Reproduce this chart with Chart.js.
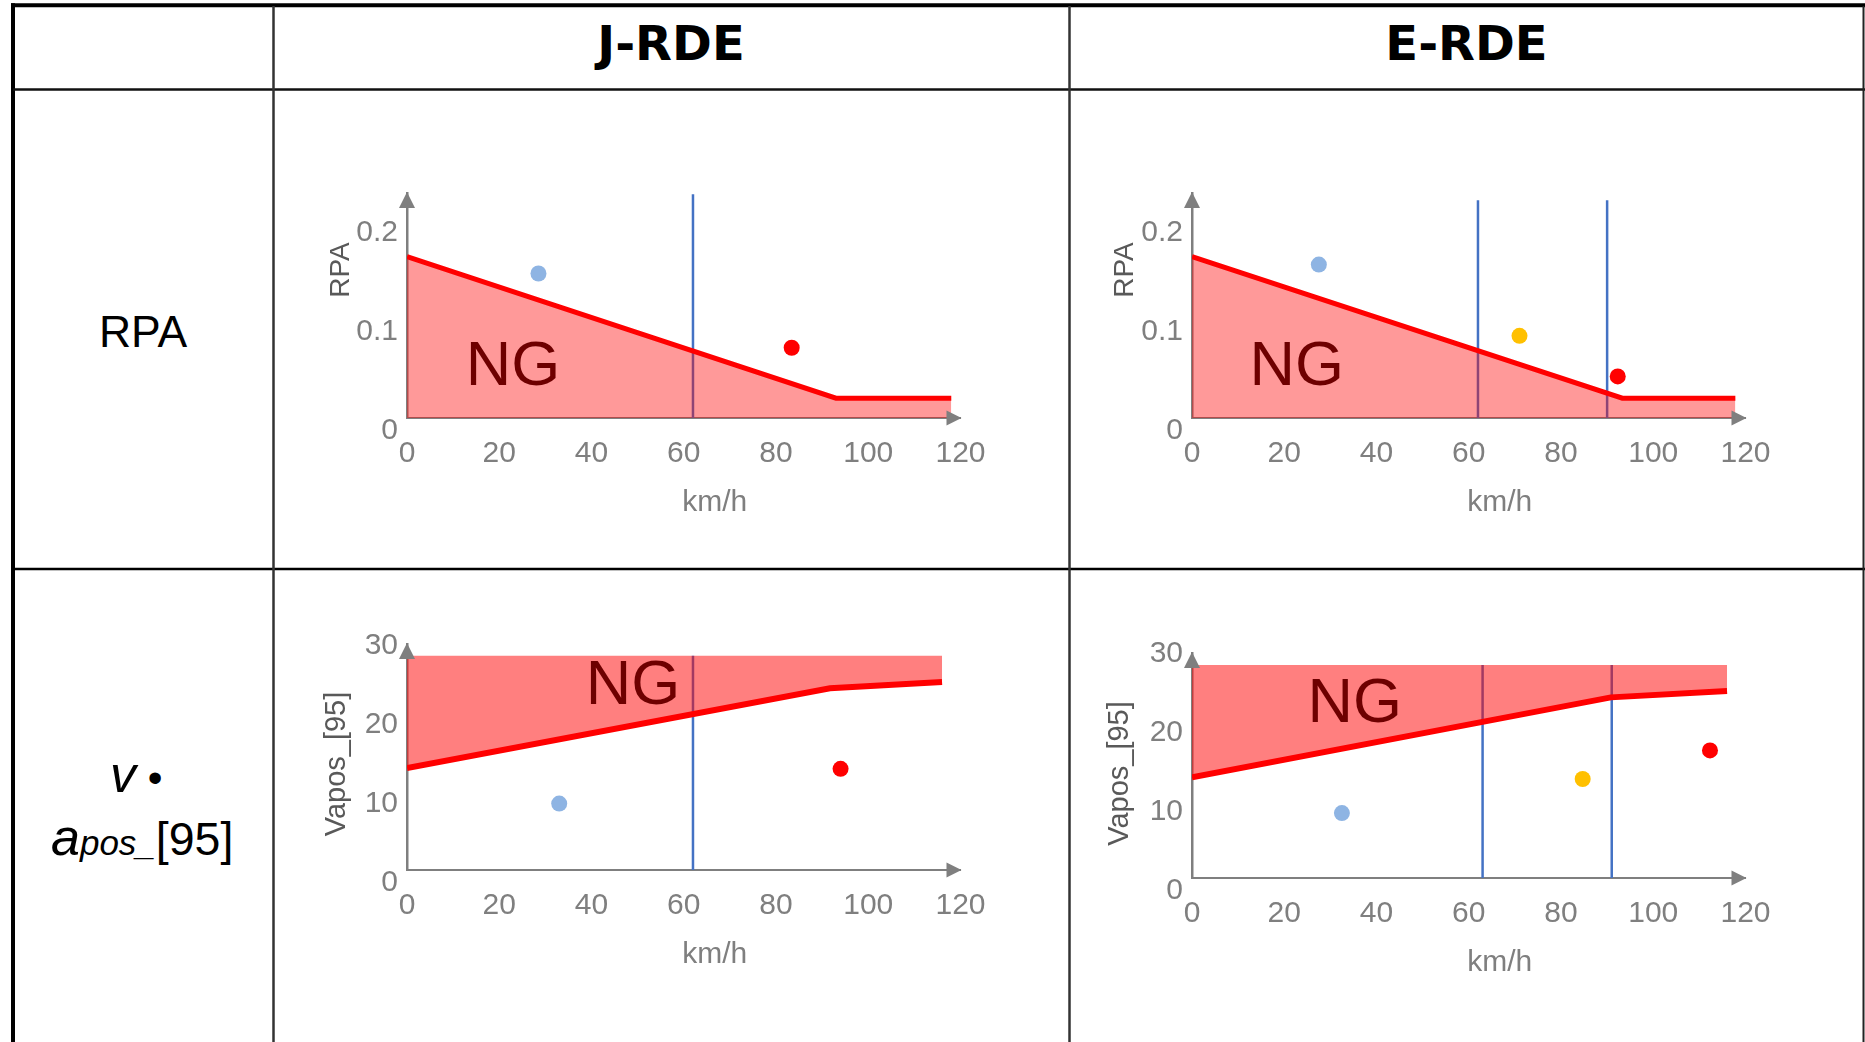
<!DOCTYPE html>
<html>
<head>
<meta charset="utf-8">
<script src="https://cdn.jsdelivr.net/npm/chart.js@4.4.0/dist/chart.umd.min.js"></script>
<style>
html,body{margin:0;padding:0;width:1865px;height:1042px;overflow:hidden;background:#fff;}
#tbl{position:absolute;left:0;top:0;}
canvas{position:absolute;}
</style>
</head>
<body>
<svg id="tbl" width="1865" height="1042" xmlns="http://www.w3.org/2000/svg">
  <line x1="11" y1="5.3" x2="1865" y2="5.3" stroke="#000" stroke-width="4"/>
  <line x1="13" y1="3.3" x2="13" y2="1042" stroke="#000" stroke-width="4"/>
  <line x1="13" y1="89.6" x2="1865" y2="89.6" stroke="#111" stroke-width="2.5"/>
  <line x1="13" y1="569" x2="1865" y2="569" stroke="#000" stroke-width="2.5"/>
  <line x1="273.5" y1="6" x2="273.5" y2="1042" stroke="#333" stroke-width="2.5"/>
  <line x1="1069.5" y1="6" x2="1069.5" y2="1042" stroke="#333" stroke-width="2.5"/>
  <line x1="1863.5" y1="6" x2="1863.5" y2="1042" stroke="#222" stroke-width="2"/>
  <text x="671" y="60" font-family="DejaVu Sans" font-weight="bold" font-size="48" text-anchor="middle" fill="#000">J-RDE</text>
  <text x="1466.5" y="60" font-family="DejaVu Sans" font-weight="bold" font-size="48" text-anchor="middle" fill="#000">E-RDE</text>
  <text x="143" y="347" font-family="Liberation Sans, Arial, sans-serif" font-size="44.5" text-anchor="middle" fill="#000">RPA</text>
  <text x="110" y="792" font-family="Liberation Sans, Arial, sans-serif" font-size="52" fill="#000"><tspan font-style="italic">v</tspan><tspan font-size="42"> •</tspan></text>
  <text x="51" y="855" font-family="Liberation Sans, Arial, sans-serif" fill="#000"><tspan font-style="italic" font-size="52">a</tspan><tspan font-style="italic" font-size="35">pos_</tspan><tspan font-size="46.5">[95]</tspan></text>
</svg>
<canvas id="c1"></canvas>
<canvas id="c2"></canvas>
<canvas id="c3"></canvas>
<canvas id="c4"></canvas>
<script>
// ---------- data ----------
const xTicks = [0, 20, 40, 60, 80, 100, 120];
const rpaTicks = [0, 0.1, 0.2];
const vaposTicks = [0, 10, 20, 30];

// J-RDE, RPA
const jRpaLimitX = [0, 93, 118];
const jRpaLimitY = [0.163, 0.020, 0.020];
const jRpaBounds = [62];
const jRpaBoundTop = 0.226;
const jRpaUrban = [28.5, 0.146];
const jRpaMotorway = [83.4, 0.071];

// E-RDE, RPA
const eRpaLimitX = [0, 93.3, 117.8];
const eRpaLimitY = [0.163, 0.020, 0.020];
const eRpaBounds = [62, 90];
const eRpaBoundTop = 0.220;
const eRpaUrban = [27.5, 0.155];
const eRpaRural = [71, 0.083];
const eRpaMotorway = [92.3, 0.042];

// J-RDE, v*apos[95]
const jVaLimitX = [0, 91.7, 116];
const jVaLimitY = [12.9, 23.0, 23.8];
const jVaCeiling = 27.1;
const jVaBounds = [62];
const jVaUrban = [33, 8.4];
const jVaMotorway = [94, 12.8];

// E-RDE, v*apos[95]
const eVaLimitX = [0, 90.8, 116];
const eVaLimitY = [12.7, 22.8, 23.6];
const eVaCeiling = 26.9;
const eVaBounds = [63, 91];
const eVaUrban = [32.5, 8.2];
const eVaRural = [84.7, 12.5];
const eVaMotorway = [112.3, 16.1];

// ---------- styling / layout ----------
const FONT = '"Liberation Sans", Arial, sans-serif';
const GRAY = '#7f7f7f';
const BLUE_LINE = '#4472C4';
const C_URBAN = '#8EB4E3', C_RURAL = '#FFC000', C_MOTOR = '#FF0000';

const charts = [
  { id:'c1', frame:{x0:406.5, x1:960, yTop:193, y0:418}, yMax:0.2273, yTicks:rpaTicks, yFmt:v => v === 0 ? '0' : v.toFixed(1),
    yTitle:'RPA', yTitleSize:28, yTitleDx:66, yTitleDy:148,
    limitX:jRpaLimitX, limitY:jRpaLimitY, fill:'origin', fillColor:'rgba(255,0,0,0.4)', lineWidth:5,
    bounds:jRpaBounds, boundTop:jRpaBoundTop,
    dots:[[jRpaUrban, C_URBAN], [jRpaMotorway, C_MOTOR]], ng:[23, 0.056] },
  { id:'c2', frame:{x0:1192, x1:1745.5, yTop:193, y0:418}, yMax:0.2273, yTicks:rpaTicks, yFmt:v => v === 0 ? '0' : v.toFixed(1),
    yTitle:'RPA', yTitleSize:28, yTitleDx:67, yTitleDy:148,
    limitX:eRpaLimitX, limitY:eRpaLimitY, fill:'origin', fillColor:'rgba(255,0,0,0.4)', lineWidth:5,
    bounds:eRpaBounds, boundTop:eRpaBoundTop,
    dots:[[eRpaUrban, C_URBAN], [eRpaRural, C_RURAL], [eRpaMotorway, C_MOTOR]], ng:[22.7, 0.056] },
  { id:'c3', frame:{x0:406.5, x1:960, yTop:644, y0:870}, yMax:28.6, yTicks:vaposTicks, yFmt:v => String(v),
    yTitle:'Vapos_[95]', yTitleSize:29, yTitleDx:70, yTitleDy:106,
    limitX:jVaLimitX, limitY:jVaLimitY, fill:{value:jVaCeiling}, fillColor:'rgba(255,0,0,0.5)', lineWidth:6,
    bounds:jVaBounds, boundTop:jVaCeiling,
    dots:[[jVaUrban, C_URBAN], [jVaMotorway, C_MOTOR]], ng:[49, 23.8] },
  { id:'c4', frame:{x0:1192, x1:1745.5, yTop:653, y0:878}, yMax:28.4, yTicks:vaposTicks, yFmt:v => String(v),
    yTitle:'Vapos_[95]', yTitleSize:29, yTitleDx:72, yTitleDy:104.5,
    limitX:eVaLimitX, limitY:eVaLimitY, fill:{value:eVaCeiling}, fillColor:'rgba(255,0,0,0.5)', lineWidth:6,
    bounds:eVaBounds, boundTop:eVaCeiling,
    dots:[[eVaUrban, C_URBAN], [eVaRural, C_RURAL], [eVaMotorway, C_MOTOR]], ng:[35.3, 22.6] }
];

function makeChart(c) {
  const YW = 110, PT = 30, PRmin = 50;
  const cw = c.frame.x1 - c.frame.x0;
  const ch = c.frame.y0 - c.frame.yTop;
  const W = Math.ceil(YW + cw + PRmin);
  const PR = W - YW - cw;
  const H = Math.ceil(PT + ch + 120);
  const XHa = H - PT - ch;
  const canvas = document.getElementById(c.id);
  canvas.width = W; canvas.height = H;
  canvas.style.width = W + 'px'; canvas.style.height = H + 'px';
  canvas.style.left = (c.frame.x0 - YW) + 'px';
  canvas.style.top = (c.frame.yTop - PT) + 'px';

  const datasets = [];
  c.bounds.forEach(b => datasets.push({
    type:'line', data:[{x:b, y:0}, {x:b, y:c.boundTop}], borderColor:BLUE_LINE, borderWidth:2.5,
    pointRadius:0, fill:false, order:3
  }));
  datasets.push({
    type:'line', data:c.limitX.map((x, i) => ({x, y:c.limitY[i]})), borderColor:'#FF0000',
    borderWidth:c.lineWidth, pointRadius:0, fill:c.fill, backgroundColor:c.fillColor,
    borderJoinStyle:'miter', borderCapStyle:'butt', tension:0, order:2
  });
  c.dots.forEach(([p, col]) => datasets.push({
    type:'scatter', data:[{x:p[0], y:p[1]}], pointRadius:8, pointBackgroundColor:col,
    pointBorderWidth:0, pointBorderColor:col, order:1
  }));

  const decor = {
    id:'decor',
    afterDatasetsDraw(chart) {
      const {ctx, scales:{x, y}} = chart;
      ctx.save();
      ctx.fillStyle = '#6e0000';
      ctx.font = '63px ' + FONT;
      ctx.textAlign = 'center'; ctx.textBaseline = 'alphabetic';
      ctx.fillText('NG', x.getPixelForValue(c.ng[0]), y.getPixelForValue(c.ng[1]) + 0.358 * 63);
      ctx.restore();
    },
    afterDraw(chart) {
      const {ctx, chartArea:{left, right, top, bottom}} = chart;
      ctx.save();
      ctx.fillStyle = GRAY;
      ctx.beginPath();
      ctx.moveTo(left, top - 1); ctx.lineTo(left - 8, top + 15); ctx.lineTo(left + 8, top + 15);
      ctx.closePath(); ctx.fill();
      ctx.beginPath();
      ctx.moveTo(right + 1, bottom); ctx.lineTo(right - 14, bottom - 7.5); ctx.lineTo(right - 14, bottom + 7.5);
      ctx.closePath(); ctx.fill();
      // axis titles
      ctx.font = '30px ' + FONT;
      ctx.textAlign = 'center'; ctx.textBaseline = 'middle';
      ctx.fillText('km/h', (left + right) / 2 + 31, bottom + 85);
      ctx.fillStyle = '#595959';
      ctx.font = c.yTitleSize + 'px ' + FONT;
      ctx.translate(left - c.yTitleDx, bottom - c.yTitleDy);
      ctx.rotate(-Math.PI / 2);
      ctx.fillText(c.yTitle, 0, 0);
      ctx.restore();
    }
  };

  return new Chart(canvas, {
    type:'scatter',
    data:{datasets},
    options:{
      responsive:false, maintainAspectRatio:false, animation:false, devicePixelRatio:1,
      layout:{padding:{left:0, right:PR, top:PT, bottom:0}},
      plugins:{legend:{display:false}, tooltip:{enabled:false}},
      scales:{
        x:{
          type:'linear', position:'bottom', min:0, max:120, bounds:'data',
          afterBuildTicks:a => { a.ticks = xTicks.map(v => ({value:v})); },
          afterFit:s => { s.height = XHa; },
          grid:{display:false, drawTicks:false},
          border:{display:true, color:GRAY, width:2},
          ticks:{color:GRAY, font:{family:FONT, size:30}, padding:18, autoSkip:false, maxRotation:0,
                 callback:v => String(v)}
        },
        y:{
          type:'linear', position:'left', min:0, max:c.yMax, bounds:'data',
          afterBuildTicks:a => { a.ticks = c.yTicks.map(v => ({value:v})); },
          afterFit:s => { s.width = YW; },
          grid:{display:false, drawTicks:false},
          border:{display:true, color:GRAY, width:2.5},
          ticks:{color:GRAY, font:{family:FONT, size:30}, padding:9, labelOffset:13, autoSkip:false,
                 callback:v => c.yFmt(v)}
        }
      }
    },
    plugins:[decor]
  });
}

charts.forEach(makeChart);
</script>
</body>
</html>
